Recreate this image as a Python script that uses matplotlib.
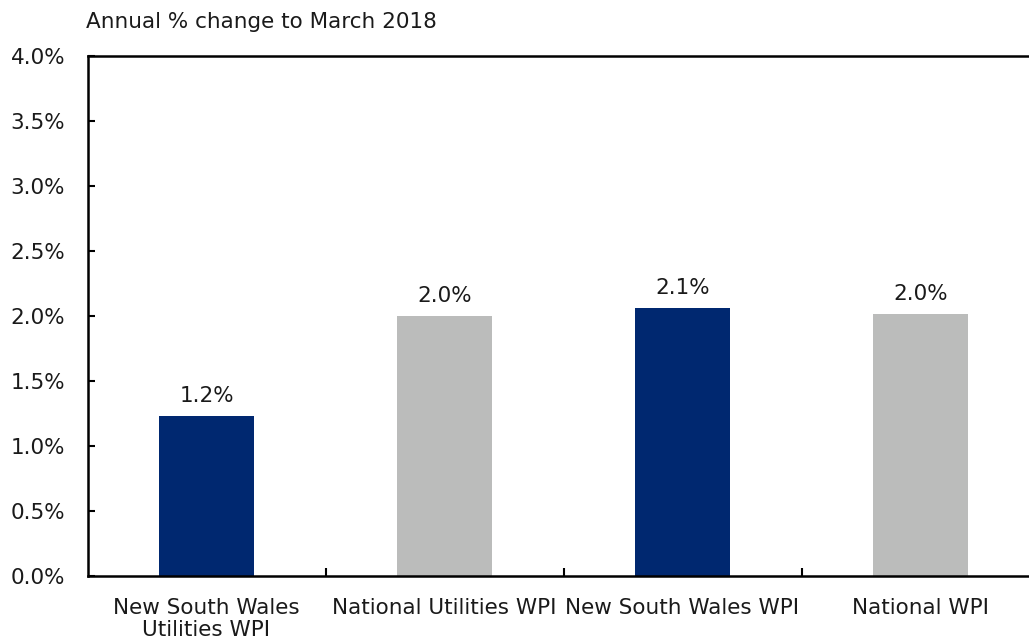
import matplotlib
matplotlib.use("Agg")
import matplotlib.pyplot as plt
from matplotlib.ticker import FuncFormatter, FixedLocator

categories = ["New South Wales\nUtilities WPI", "National Utilities WPI", "New South Wales WPI", "National WPI"]
values = [1.23, 2.0, 2.06, 2.015]
labels = ["1.2%", "2.0%", "2.1%", "2.0%"]
colors = ["#002870", "#BBBCBB", "#002870", "#BBBCBB"]
title = "Annual % change to March 2018"

FS = 15.5
plt.rcParams['font.family'] = ['DejaVu Sans']
fig = plt.figure(figsize=(10.29, 6.43), dpi=100)
W, H = 1029, 643
ax = fig.add_axes([87.5 / W, (H - 576) / H, (1039.5 - 87.5) / W, (576 - 56) / H])

x = list(range(len(categories)))
ax.bar(x, values, width=0.4, color=colors, zorder=2)
for xi, v, lab in zip(x, values, labels):
    ax.annotate(lab, (xi, v), xytext=(0, 7), textcoords="offset points",
                ha="center", va="bottom", fontsize=FS, color="#1a1a1a")

ax.set_xlim(-0.5, len(categories) - 0.5)
ax.set_ylim(0, 4.0)
ax.set_yticks([i * 0.5 for i in range(9)])
ax.yaxis.set_major_formatter(FuncFormatter(lambda v, p: f"{v:.1f}%"))
ax.set_xticks(x)
ax.set_xticklabels(categories, fontsize=FS, color="#1a1a1a", linespacing=1.15)
ax.xaxis.set_minor_locator(FixedLocator([0.5, 1.5, 2.5]))
ax.tick_params(axis="x", which="major", length=0, pad=15.5)
ax.tick_params(axis="x", which="minor", direction="in", length=6, width=1.5)
ax.tick_params(axis="y", direction="in", length=5, width=1.5, labelsize=FS,
               labelcolor="#1a1a1a", pad=16)

for s in ["left", "bottom", "top"]:
    ax.spines[s].set_linewidth(1.8)
    ax.spines[s].set_color("black")
ax.spines["right"].set_visible(False)

fig.text(86 / W, 1 - 22 / H, title, fontsize=FS, ha="left", va="center", color="#1a1a1a")

fig.savefig("out.png", dpi=100)
